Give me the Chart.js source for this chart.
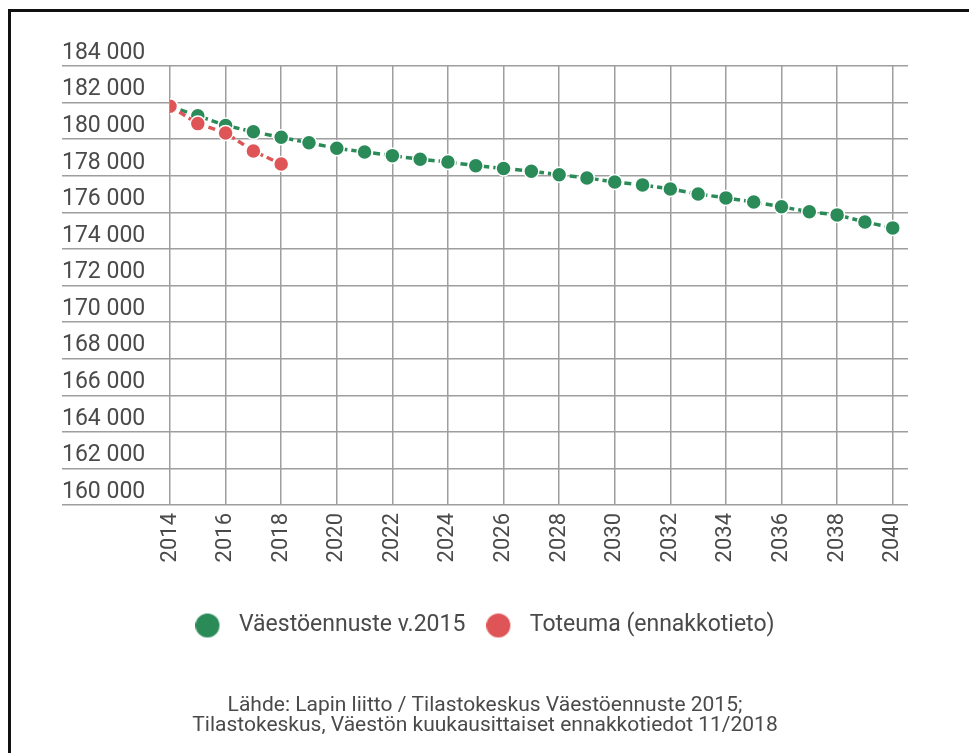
<!DOCTYPE html>
<html>
<head>
  <title>Väestöennuste</title>
  <script src="https://cdnjs.cloudflare.com/ajax/libs/Chart.js/4.4.1/chart.umd.min.js"></script>
  <style>
    body { margin: 0; background: #fff; overflow: hidden; }
    #frame { position: absolute; left: 8px; top: 9px; width: 2000px; height: 2000px;
             border-left: 3px solid #111; border-top: 3px solid #111; pointer-events: none; }
  </style>
</head>
<body>
  <canvas id="lineChart" width="969" height="753"></canvas>
  <div id="frame"></div>

  <script>
    // data
    const years = [2014, 2015, 2016, 2017, 2018, 2019, 2020, 2021, 2022, 2023, 2024, 2025, 2026, 2027,
                   2028, 2029, 2030, 2031, 2032, 2033, 2034, 2035, 2036, 2037, 2038, 2039, 2040];
    const ennuste = [181800, 181280, 180750, 180400, 180100, 179800, 179500, 179300, 179100, 178900,
                     178750, 178550, 178400, 178250, 178050, 177880, 177660, 177500, 177280, 177000,
                     176790, 176570, 176300, 176030, 175860, 175470, 175150];
    const toteumaYears = [2014, 2015, 2016, 2017, 2018];
    const toteuma = [181800, 180850, 180340, 179350, 178640];
    const seriesLabels = ['Väestöennuste v.2015', 'Toteuma (ennakkotieto)'];
    const footer = ['Lähde: Lapin liitto / Tilastokeskus Väestöennuste 2015;',
                    'Tilastokeskus, Väestön kuukausittaiset ennakkotiedot 11/2018'];

    const green = '#2a8a58';
    const red = '#df5557';
    const gridColor = '#9e9e9e';
    const textColor = '#4a4a4a';

    // legend dot: circle on the left of a wider canvas, so the text sits further away
    function legendDot(color) {
      const c = document.createElement('canvas');
      c.width = 32; c.height = 26;
      const g = c.getContext('2d');
      g.fillStyle = color;
      g.beginPath();
      g.arc(12, 13, 12, 0, Math.PI * 2);
      g.fill();
      return c;
    }

    const fmt = v => String(v).replace(/\B(?=(\d{3})+(?!\d))/g, ' ');

    const ctx = document.getElementById('lineChart').getContext('2d');
    const lineChart = new Chart(ctx, {
      type: 'line',
      data: {
        datasets: [
          {
            label: seriesLabels[0],
            data: years.map((y, i) => ({ x: y, y: ennuste[i] })),
            borderColor: green,
            backgroundColor: green,
            borderWidth: 3.5,
            borderDash: [7, 4],
            pointRadius: 7.5,
            pointBorderColor: '#fff',
            pointBorderWidth: 1.5,
            pointBackgroundColor: green,
            order: 1
          },
          {
            label: seriesLabels[1],
            data: toteumaYears.map((y, i) => ({ x: y, y: toteuma[i] })),
            borderColor: red,
            backgroundColor: red,
            borderWidth: 3.5,
            borderDash: [7, 4],
            pointRadius: 7.5,
            pointBorderColor: '#fff',
            pointBorderWidth: 1.5,
            pointBackgroundColor: red,
            order: 0
          }
        ]
      },
      options: {
        responsive: false,
        animation: false,
        layout: { padding: { left: 62, right: 61, top: 66, bottom: 17 } },
        scales: {
          x: {
            type: 'linear',
            min: 2014,
            max: 2040.55,
            border: { display: false },
            grid: { color: gridColor, lineWidth: 1.5, drawTicks: false },
            ticks: {
              stepSize: 2,
              includeBounds: false,
              autoSkip: false,
              minRotation: 90,
              maxRotation: 90,
              padding: 8,
              color: textColor,
              font: { family: 'Roboto', size: 22 },
              callback: v => String(v)
            },
            afterFit: s => { s.height = 88; }
          },
          y: {
            min: 160000,
            max: 184000,
            border: { display: false },
            grid: { color: gridColor, lineWidth: 1.5, tickLength: 108, tickColor: gridColor },
            ticks: {
              stepSize: 2000,
              crossAlign: 'far',
              labelOffset: -13,
              color: textColor,
              font: { family: 'Roboto', size: 23 },
              callback: v => fmt(v)
            },
            afterFit: s => { s.width = 108; }
          }
        },
        plugins: {
          tooltip: { enabled: false },
          legend: {
            position: 'bottom',
            labels: {
              usePointStyle: true,
              pointStyleWidth: 32,
              padding: 21,
              color: textColor,
              font: { family: 'Roboto', size: 23 },
              generateLabels: chart => chart.data.datasets.map((ds, i) => ({
                text: ds.label,
                fillStyle: ds.backgroundColor,
                strokeStyle: ds.backgroundColor,
                lineWidth: 0,
                pointStyle: legendDot(ds.backgroundColor),
                fontColor: textColor,
                hidden: false,
                datasetIndex: i
              }))
            }
          },
          title: {
            display: true,
            position: 'bottom',
            text: footer,
            color: textColor,
            font: { family: 'Roboto', size: 21, weight: 'normal', lineHeight: 20 / 21 },
            padding: { top: 49, bottom: 0 }
          }
        }
      }
    });
  </script>
</body>
</html>
